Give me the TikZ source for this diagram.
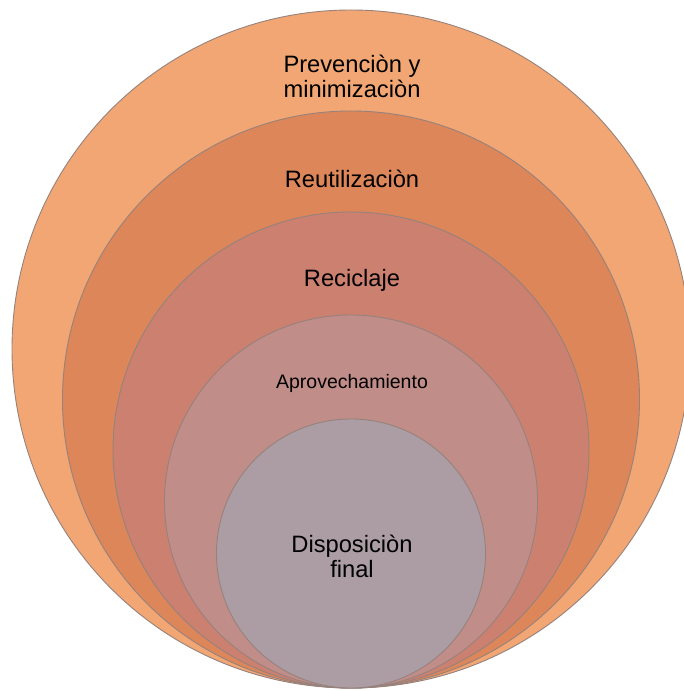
\documentclass[tikz,border=0pt]{standalone}
\usepackage{fontspec}
\setmainfont{Liberation Sans}
\definecolor{capa1}{RGB}{241,166,115}
\definecolor{capa2}{RGB}{221,134,89}
\definecolor{capa3}{RGB}{203,128,112}
\definecolor{capa4}{RGB}{193,141,137}
\definecolor{capa5}{RGB}{171,157,163}
\definecolor{borde}{RGB}{150,130,125}
\begin{document}
\begin{tikzpicture}[x=1pt,y=1pt]
\tikzset{ring style/.style={shape=circle,draw=borde,line width=0.9pt,inner sep=0pt,outer sep=0pt,anchor=south},
         label style/.style={align=center,font=\fontsize{23.7}{25}\selectfont}}
\useasboundingbox (0,0) rectangle (683,691);

\node[ring style,fill=capa1,minimum size=678] at (351, 3)   (prev)   {};
\node[ring style,fill=capa2,minimum size=577] at (351, 3)   (reut)   {};
\node[ring style,fill=capa3,minimum size=476] at (351, 3)   (recic)  {};
\node[ring style,fill=capa4,minimum size=373] at (351, 3)   (aprov)  {};
\node[ring style,fill=capa5,minimum size=269] at (351, 3)   (disp)   {};

\node[label style] at (352, 615)   (t1)   {Prevenciòn y\\minimizaciòn};
\node[label style] at (352, 512)   (t2)   {Reutilizaciòn};
\node[label style] at (352, 411)   (t3)   {Reciclaje};
\node[label style,font=\fontsize{19.5}{21}\selectfont] at (352, 308)   (t4)   {Aprovechamiento};
\node[label style] at (352, 135)   (t5)   {Disposiciòn\\final};
%\node[label style] at (352, 40)   (t6)   {};
\end{tikzpicture}
\end{document}
